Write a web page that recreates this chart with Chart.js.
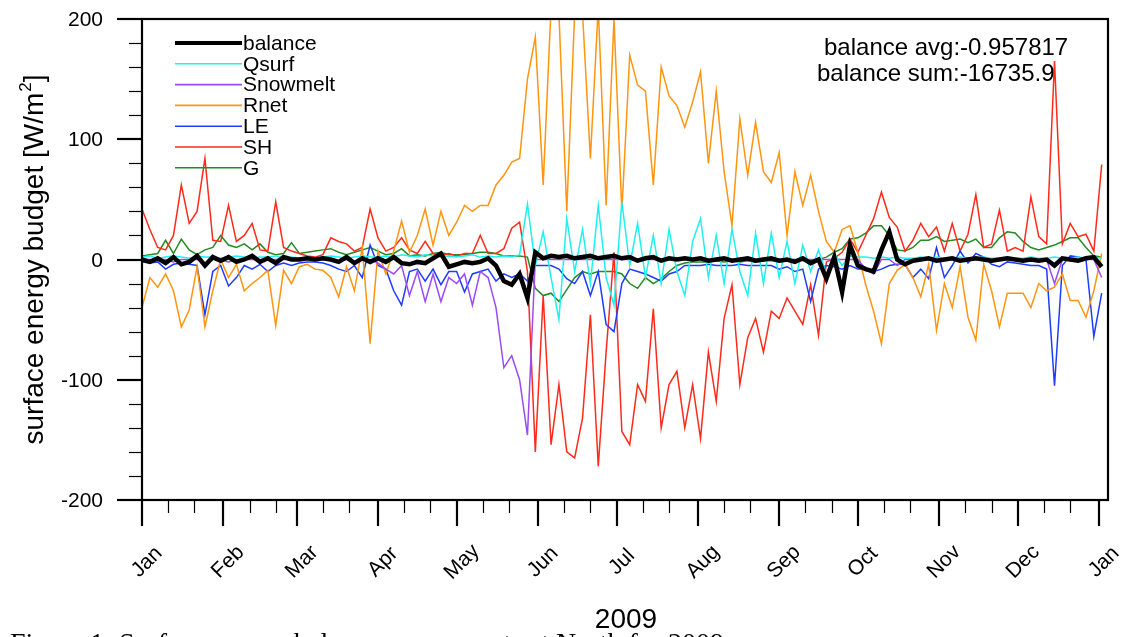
<!DOCTYPE html>
<html>
<head>
<meta charset="utf-8">
<script src="https://cdn.jsdelivr.net/npm/chart.js@4.4.1/dist/chart.umd.min.js"></script>
<style>
html, body { margin: 0; padding: 0; background: #fff; }
</style>
</head>
<body>
<canvas id="budgetCanvas" width="1125" height="637"></canvas>
<script>
// day of year for each sample (every 3 days)
const days = [0,3,6,9,12,15,18,21,24,27, 30,33,36,39,42,45,48,51,54,57,
  60,63,66,69,72,75,78,81,84,87, 90,93,96,99,102,105,108,111,114,117,
  120,123,126,129,132,135,138,141,144,147, 150,153,156,159,162,165,168,171,174,177,
  180,183,186,189,192,195,198,201,204,207, 210,213,216,219,222,225,228,231,234,237,
  240,243,246,249,252,255,258,261,264,267, 270,273,276,279,282,285,288,291,294,297,
  300,303,306,309,312,315,318,321,324,327, 330,333,336,339,342,345,348,351,354,357,
  360,363,366];

const balance = [0,-2,1,-3,2,-4,-2,3,-5,2, -1,2,-2,0,3,-2,1,-3,2,0,
  0,1,0,1,0,-2,2,-3,1,-2, 1,-2,2,-3,-4,-2,-3,1,5,-6,
  -4,-2,-3,-2,1,-5,-18,-21,-12,-32, 6,1,3,2,3,1,2,3,1,2,
  3,1,2,-1,1,2,-1,1,0,1, 0,1,-1,0,1,-1,0,1,-1,0,
  1,-1,0,-2,1,-3,0,-16,2,-27, 12,-5,-8,-10,8,23,0,-4,-1,0,
  1,-1,0,1,-1,0,1,0,-1,0, 1,0,-1,0,-1,0,-5,1,0,-1,
  1,2,-6];

const qsurf = [2,3,1,2,3,2,1,3,2,2, 1,2,3,2,1,2,2,3,1,2,
  1,2,1,2,3,2,1,2,3,2, 2,3,2,4,3,2,4,3,2,3,
  2,3,4,2,3,2,3,2,4,46, -5,23,-15,-50,34,-10,25,-20,45,-15,
  -38,48,-5,30,-15,20,-20,25,-10,-30, 15,34,-15,20,-20,25,-10,-30,22,-20,
  22,-15,15,-20,12,-10,8,-12,5,-5, 3,2,2,1,2,1,2,1,1,2,
  1,2,1,1,2,1,1,2,1,1, 2,1,1,2,1,1,2,1,1,2,
  1,2,1];

const snowmelt = [0,0,0,0,-2,0,0,0,-3,0, 0,-2,0,0,0,0,0,0,0,0,
  0,0,0,0,0,-2,0,-3,0,0, -3,-8,-12,-5,-30,-10,-35,-12,-35,-15,
  -20,-12,-38,-10,-15,-40,-90,-80,-100,-146, 0,0,0,0,0,0,0,0,0,0,
  0,0,0,0,0,0,0,0,0,0, 0,0,0,0,0,0,0,0,0,0,
  0,0,0,0,0,0,0,0,0,0, 0,0,-8,-12,0,0,-5,0,0,0,
  0,0,0,0,0,0,0,0,0,0, 0,0,0,0,0,0,-20,0,0,0,
  0,0,-15];

const rnet = [-40,-15,-23,-12,-26,-56,-42,-6,-56,-26, 0,-15,-4,-26,-20,-15,-9,-55,-9,-20,
  -6,-4,-8,-9,-15,-31,-6,-26,10,-70, 7,-12,7,32,6,20,42,12,40,20,
  31,45,40,45,45,62,70,81,84,150, 185,62,210,205,40,205,205,84,210,45,
  200,40,170,145,140,62,160,136,128,110, 131,156,80,140,73,28,117,70,114,73,
  64,89,20,73,45,70,40,15,6,25, 28,6,-21,-43,-70,-20,-9,-4,-15,-31,
  -4,-59,-20,-40,-6,-48,-67,-4,-26,-56, -28,-28,-28,-40,-20,-26,-23,-12,-34,-34,
  -48,-26,5];

const le = [-2,-3,-2,-8,-4,-3,-4,-5,-46,-10, -5,-22,-15,-5,-8,-4,-10,-5,-3,-5,
  -3,-2,-2,-3,-5,-8,-10,-5,-15,12, -5,-8,-26,-38,-10,-8,-18,-8,-21,-10,
  -10,-27,-12,-10,-8,-18,-12,-15,-12,-18, -5,-5,-5,-8,-16,-20,-10,-30,-10,-54,
  -60,-20,-8,-10,-12,-15,-18,-12,-10,-5, -5,-5,-4,-5,-5,-5,-4,-5,-5,-5,
  -5,-8,-6,-10,-8,-35,-8,-5,-6,-8, -5,-8,-8,-10,-8,-5,-4,-4,-15,-8,
  -16,10,-15,-5,7,-3,5,2,-4,-6, -2,-3,-4,-5,-5,-8,-105,-5,3,2,
  0,-64,-28];

const sh = [42,25,10,8,20,62,30,40,84,16, 15,45,15,20,30,8,7,48,10,7,
  5,3,2,4,18,15,13,7,10,42, 18,7,10,18,8,5,15,5,3,5,
  3,5,5,20,5,5,9,26,31,-10, -160,-30,-154,-104,-160,-165,-132,-46,-172,-77,
  6,-143,-154,-104,-118,-41,-140,-104,-93,-140, -104,-149,-77,-118,-49,-21,-104,-65,-49,-77,
  -43,-49,-32,-43,-54,-21,-63,-2,1,6, 17,6,20,34,56,35,27,7,16,30,
  19,27,7,30,7,21,54,10,13,41, 7,10,7,52,19,13,165,13,30,19,
  21,7,79];

const ground = [3,4,5,16,5,17,8,4,8,10, 20,12,10,13,8,13,6,4,5,14,
  5,6,7,8,9,6,4,6,8,10, 7,4,5,9,3,4,3,5,6,4,
  4,4,5,6,6,5,3,3,3,2, -24,-30,-28,-35,-25,-15,-10,-12,-10,-10,
  -10,-12,-20,-24,-15,-20,-16,-10,-5,-3, -2,-2,-2,-1,-2,-1,-2,-1,-2,-1,
  -1,-2,-1,0,-1,-1,0,2,6,9, 17,18,22,28,28,20,8,7,10,16,
  16,19,15,16,17,14,17,10,10,18, 23,22,15,10,8,10,12,15,18,18,
  10,3,2];

const monthStarts = [0,31,59,90,120,151,181,212,243,273,304,334,365];
const monthNames = ['Jan','Feb','Mar','Apr','May','Jun','Jul','Aug','Sep','Oct','Nov','Dec','Jan'];
const yMajorTicks = [-200,-100,0,100,200];
const yMinorTicks = [-180,-160,-140,-120,-80,-60,-40,-20,20,40,60,80,120,140,160,180];

const seriesNames = ['balance','Qsurf','Snowmelt','Rnet','LE','SH','G'];
const seriesValues = [balance, qsurf, snowmelt, rnet, le, sh, ground];
const seriesColors = ['#000000','#22f0f0','#9a4cf2','#ff9510','#1e3cff','#ff2a1a','#228b22'];

const sansFont = '"Liberation Sans", Arial, Helvetica, sans-serif';

function toPoints(vals) {
    return days.map((d, i) => ({x: d, y: vals[i]}));
}

// axes, ticks, legend and labels are drawn by hand, NCL style
const ncarAxes = {
    id: 'ncarAxes',
    afterDatasetsDraw(chart) {
        const ctx = chart.ctx;
        const a = chart.chartArea;
        const xs = chart.scales.x;
        const ys = chart.scales.y;
        ctx.save();

        // y ticks (outward, left)
        ctx.strokeStyle = '#000';
        yMinorTicks.forEach(v => {
            const py = Math.round(ys.getPixelForValue(v)) + 0.5;
            ctx.lineWidth = 1.2;
            ctx.beginPath(); ctx.moveTo(a.left - 13, py); ctx.lineTo(a.left, py); ctx.stroke();
        });
        ctx.fillStyle = '#000';
        ctx.font = '21px ' + sansFont;
        ctx.textAlign = 'right';
        ctx.textBaseline = 'middle';
        yMajorTicks.forEach(v => {
            const py = Math.round(ys.getPixelForValue(v));
            ctx.lineWidth = 2.2;
            ctx.beginPath(); ctx.moveTo(a.left - 25, py); ctx.lineTo(a.left, py); ctx.stroke();
            ctx.fillText(String(v), a.left - 39, py + 1);
        });

        // x ticks (outward, down): months plus 11th and 21st
        monthStarts.forEach((d, i) => {
            const px = Math.round(xs.getPixelForValue(d));
            ctx.lineWidth = 2.2;
            ctx.beginPath(); ctx.moveTo(px, a.bottom); ctx.lineTo(px, a.bottom + 26); ctx.stroke();
            if (i < monthStarts.length - 1) {
                [10, 20].forEach(off => {
                    const mx = Math.round(xs.getPixelForValue(d + off)) + 0.5;
                    ctx.lineWidth = 1.2;
                    ctx.beginPath(); ctx.moveTo(mx, a.bottom); ctx.lineTo(mx, a.bottom + 13); ctx.stroke();
                });
            }
            ctx.save();
            ctx.translate(px + 5, 562);
            ctx.rotate(-Math.PI / 4);
            ctx.font = '21px ' + sansFont;
            ctx.textAlign = 'center';
            ctx.textBaseline = 'middle';
            ctx.fillText(monthNames[i], 0, 0);
            ctx.restore();
        });

        // frame
        ctx.lineWidth = 2.2;
        ctx.strokeRect(a.left, a.top, a.right - a.left, a.bottom - a.top);

        // legend
        ctx.font = '21px ' + sansFont;
        ctx.textAlign = 'left';
        ctx.textBaseline = 'middle';
        chart.data.datasets.forEach((ds, i) => {
            const ly = 43 + i * 20.8;
            ctx.strokeStyle = ds.borderColor;
            ctx.lineWidth = i === 0 ? 4 : 1.6;
            ctx.beginPath(); ctx.moveTo(175, ly); ctx.lineTo(242, ly); ctx.stroke();
            ctx.fillStyle = '#000';
            ctx.fillText(ds.label, 243, ly + 1);
        });

        // balance statistics
        ctx.font = '24px ' + sansFont;
        ctx.textBaseline = 'middle';
        ctx.fillText('balance avg:-0.957817', 824, 48);
        ctx.fillText('balance sum:-16735.9', 817, 74);

        // y title with superscript
        ctx.save();
        ctx.translate(33, 260);
        ctx.rotate(-Math.PI / 2);
        ctx.font = '28px ' + sansFont;
        const t1 = 'surface energy budget [W/m';
        const w1 = ctx.measureText(t1).width;
        ctx.font = '17px ' + sansFont;
        const w2 = ctx.measureText('2').width;
        ctx.font = '28px ' + sansFont;
        const w3 = ctx.measureText(']').width;
        let sx = -(w1 + w2 + w3) / 2;
        ctx.textAlign = 'left';
        ctx.textBaseline = 'alphabetic';
        ctx.fillText(t1, sx, 10);
        ctx.font = '17px ' + sansFont;
        ctx.fillText('2', sx + w1 + 1, -2);
        ctx.font = '28px ' + sansFont;
        ctx.fillText(']', sx + w1 + w2 + 1, 10);
        ctx.restore();

        // x title
        ctx.font = '28px ' + sansFont;
        ctx.textAlign = 'center';
        ctx.textBaseline = 'alphabetic';
        ctx.fillText('2009', 626, 628);

        // caption, cut off by the bottom edge
        ctx.font = '28px "Liberation Serif", "Times New Roman", serif';
        ctx.textAlign = 'left';
        ctx.fillText('Figure 1: Surface energy balance components at North for 2009', 10, 652);

        ctx.restore();
    }
};

const ctx = document.getElementById('budgetCanvas').getContext('2d');
const chart = new Chart(ctx, {
    type: 'line',
    data: {
        datasets: seriesNames.map((name, i) => ({
            label: name,
            data: toPoints(seriesValues[i]),
            borderColor: seriesColors[i],
            borderWidth: i === 0 ? 4.5 : 1.5,
            pointRadius: 0,
            tension: 0,
            fill: false
        }))
    },
    options: {
        responsive: false,
        animation: false,
        devicePixelRatio: 1,
        layout: { padding: { left: 142, right: 17, top: 19, bottom: 137 } },
        plugins: { legend: { display: false }, tooltip: { enabled: false } },
        scales: {
            x: { type: 'linear', min: 0, max: 368.4, display: false },
            y: { type: 'linear', min: -200, max: 200, display: false }
        }
    },
    plugins: [ncarAxes]
});
</script>
</body>
</html>
